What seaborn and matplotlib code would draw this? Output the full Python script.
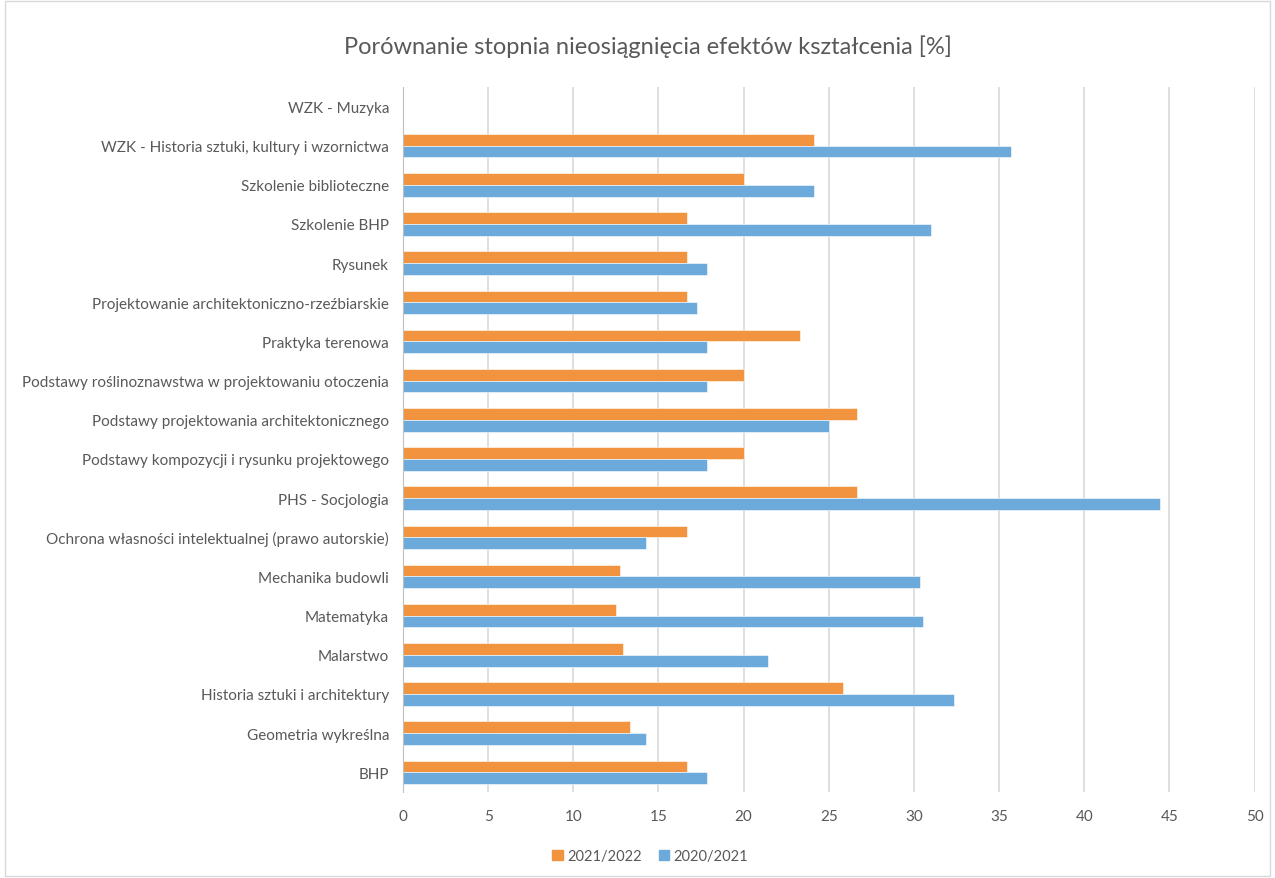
import pandas as pd
import numpy as np
import matplotlib.pyplot as plt
import seaborn as sns
from matplotlib.patches import Rectangle

# categories top to bottom, as in the chart
subjects = ['WZK - Muzyka',
            'WZK - Historia sztuki, kultury i wzornictwa',
            'Szkolenie biblioteczne',
            'Szkolenie BHP',
            'Rysunek',
            'Projektowanie architektoniczno-rzeźbiarskie',
            'Praktyka terenowa',
            'Podstawy roślinoznawstwa w projektowaniu otoczenia',
            'Podstawy projektowania architektonicznego',
            'Podstawy kompozycji i rysunku projektowego',
            'PHS - Socjologia',
            'Ochrona własności intelektualnej (prawo autorskie)',
            'Mechanika budowli',
            'Matematyka',
            'Malarstwo',
            'Historia sztuki i architektury',
            'Geometria wykreślna',
            'BHP']

# 2021/2022 values [%]
y2122 = [np.nan, 24.14, 20.0, 16.67, 16.67, 16.67, 23.33, 20.0, 26.67, 20.0,
         26.67, 16.67, 12.73, 12.5, 12.9, 25.81, 13.33, 16.67]
# 2020/2021 values [%]
y2021 = [np.nan, 35.71, 24.14, 31.03, 17.86, 17.24, 17.86, 17.86, 25.0, 17.86,
         44.44, 14.29, 30.36, 30.56, 21.43, 32.35, 14.29, 17.86]

seasons = ['2021/2022', '2020/2021']
colors = ['#F2933F', '#6BAADB']

frame = pd.DataFrame({'subject': subjects * 2,
                      'value': y2122 + y2021,
                      'season': [seasons[0]] * len(subjects) + [seasons[1]] * len(subjects)})

sns.set_style('white')
plt.rcParams['font.family'] = ['Lato', 'DejaVu Sans']

fig = plt.figure(figsize=(12.75, 8.79), dpi=100)
ax = fig.add_axes([0.316, 0.098, 0.668, 0.802])

sns.barplot(data=frame, x='value', y='subject', hue='season', hue_order=seasons,
            order=subjects, palette=colors, saturation=1, width=0.6, orient='h', ax=ax,
            edgecolor='#FFFFFF', linewidth=0.4, legend=False)

ax.set_xlim(0, 50)
ax.set_xticks(np.arange(0, 51, 5))
ax.grid(axis='x', color='#D9D9D9', linewidth=1.2)
ax.set_axisbelow(True)
for s in ['top', 'right', 'bottom']:
    ax.spines[s].set_visible(False)
ax.spines['left'].set_color('#BFBFBF')
ax.tick_params(axis='both', length=0, colors='#595959', labelsize=11)
ax.tick_params(axis='x', pad=12)
ax.tick_params(axis='y', pad=10)
ax.set_xlabel('')
ax.set_ylabel('')

fig.suptitle('Porównanie stopnia nieosiągnięcia efektów kształcenia [%]',
             x=0.508, y=0.96, fontsize=17, color='#595959')

handles = [Rectangle((0, 0), 1, 1, color=c) for c in colors]
fig.legend(handles, seasons, loc='center', bbox_to_anchor=(0.51, 0.025), ncol=2,
           frameon=False, fontsize=10.5, labelcolor='#595959',
           handlelength=0.7, handleheight=0.7, handletextpad=0.3, columnspacing=1.2)

fig.patches.append(Rectangle((0.004, 0.002), 0.992, 0.996, transform=fig.transFigure,
                             fill=False, edgecolor='#D9D9D9', linewidth=1))

fig.savefig('out.png', dpi=100, facecolor='white')
